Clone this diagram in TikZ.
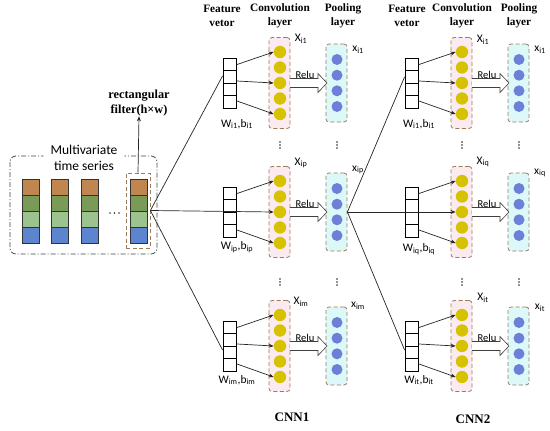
\documentclass[tikz,border=0pt]{standalone}
\usepackage{fontspec}
\setmainfont{Liberation Serif}
\newfontfamily\calfont{Carlito}
\usetikzlibrary{calc,arrows.meta}
\definecolor{ccA}{HTML}{BF8650}
\definecolor{ccB}{HTML}{7A9A58}
\definecolor{ccC}{HTML}{9CC38D}
\definecolor{ccD}{HTML}{5C84CF}
\definecolor{yel}{HTML}{D6C200}
\definecolor{blu}{HTML}{6C80D8}
\definecolor{pinkf}{HTML}{FCEAF1}
\definecolor{cyanf}{HTML}{DDF8F8}
\definecolor{brn}{HTML}{9C7B5B}
\definecolor{panel}{HTML}{3C4A48}
\newcommand\cnnrow[7]{%
 \node[fvbox] (#1fv) at ({#2+229.5},#3) {};
 \draw[fvline] ({#2+223},{#3-12.5}) -- ++(13,0) ({#2+223},#3) -- ++(13,0) ({#2+223},{#3+12.5}) -- ++(13,0);
 \node[convbox] (#1cv) at ({#2+279.5},#3) {};
 \foreach \k/\dy in {1/-31,2/-15.5,3/0,4/15.5,5/31}{\node[ycirc] (#1y\k) at ({#2+280},{#3+\dy}) {};}
 \node[poolbox] (#1pl) at ({#2+336.5},#3) {};
 \foreach \k/\dy in {1/-23.5,2/-7.8,3/7.8,4/23.5}{\node[bcirc] (#1b\k) at ({#2+337},{#3+\dy}) {};}
 \node[lbl] (#1X) at ({#2+301},{#3+#5}) {X\textsubscript{i#4}};
 \node[lbl] (#1x) at ({#2+358},{#3+#6}) {x\textsubscript{i#4}};
 \node[lbl] (#1W) at ({#2+237},{#3+#7}) {W\textsubscript{i#4},b\textsubscript{i#4}};
 \draw[blockarrow] ({#2+290},{#3-4.5}) -- ({#2+318},{#3-4.5}) -- ({#2+318},{#3-9.5}) -- ({#2+327},#3) -- ({#2+318},{#3+9.5}) -- ({#2+318},{#3+4.5}) -- ({#2+290},{#3+4.5});
 \node[relu] (#1r) at ({#2+305},{#3-8}) {Relu};
 \draw[conn,-{Stealth[length=5pt,width=4pt]}] ($(#1fv.north east)!0.14!(#1fv.south east)$) -- (#1y1.west);
 \draw[conn,-{Stealth[length=5pt,width=4pt]}] ($(#1fv.north east)!0.85!(#1fv.south east)$) -- (#1y5.west);
}
\begin{document}
\begin{tikzpicture}[x=1pt,y=-1pt,
  fvbox/.style={draw=black,fill=white,line width=0.8pt,minimum width=13pt,minimum height=50pt,inner sep=0pt},
  fvline/.style={line width=0.8pt},
  convbox/.style={draw=brn,fill=pinkf,dashed,dash pattern=on 4pt off 2.5pt,line width=0.8pt,rounded corners=3pt,minimum width=21pt,minimum height=91pt,inner sep=0pt},
  poolbox/.style={draw=brn,fill=cyanf,dashed,dash pattern=on 4pt off 2.5pt,line width=0.8pt,rounded corners=3pt,minimum width=21pt,minimum height=78pt,inner sep=0pt},
  ycirc/.style={circle,fill=yel,minimum size=12.4pt,inner sep=0pt},
  bcirc/.style={circle,fill=blu,minimum size=11pt,inner sep=0pt},
  lbl/.style={font=\calfont\fontsize{11.5}{13}\selectfont,inner sep=0pt},
  relu/.style={font=\calfont\fontsize{10.5}{12}\selectfont,inner sep=0pt},
  blockarrow/.style={draw=black!75,fill=white,line width=0.6pt},
  conn/.style={draw=black!85,line width=0.7pt},
  hdr/.style={font=\bfseries\fontsize{11.3}{14}\selectfont,align=center,inner sep=0pt},
  cnnlbl/.style={font=\bfseries\fontsize{13}{15}\selectfont,inner sep=0pt},
  cell/.style={draw=black!80,line width=0.7pt}]
\useasboundingbox[fill=white] (0,0) rectangle (550,431);

% left panel
\draw[panel,line width=0.8pt,dash pattern=on 5pt off 2pt on 1pt off 2pt,rounded corners=6pt] (10,156) rectangle (157,254);
\node[fill=white,rounded corners=4pt,inner xsep=7pt,inner ysep=2pt,align=center,font=\calfont\fontsize{13.5}{16}\selectfont] (mts) at (84,158) {Multivariate\\time series};
\foreach \xx in {22,51,81,130}{
  \filldraw[cell,fill=ccA] (\xx,179) rectangle ++(17,16);
  \filldraw[cell,fill=ccB] (\xx,195) rectangle ++(17,16);
  \filldraw[cell,fill=ccC] (\xx,211) rectangle ++(17,16);
  \filldraw[cell,fill=ccD] (\xx,227) rectangle ++(17,16);
}
\foreach \xx in {110,114.5,119}{\fill[black!80] (\xx,213) circle (0.9pt);}
\node[draw=brn,dashed,dash pattern=on 4pt off 2.5pt,line width=0.8pt,minimum width=24pt,minimum height=75pt,inner sep=0pt] (filt) at (138,210.5) {};
\node[hdr,font=\bfseries\fontsize{12.3}{15}\selectfont] (ftext) at (139,103) {rectangular\\filter(h×w)};
\draw[conn,-{Stealth[length=5pt,width=4pt]}] (filt.north) -- (ftext.south);

% headers
\node[hdr] (h1) at (222,16) {Feature\\vetor};
\node[hdr] (h2) at (280,16) {Convolution\\layer};
\node[hdr] (h3) at (343,16) {Pooling\\layer};
\node[hdr] (h4) at (407,16) {Feature\\vetor};
\node[hdr] (h5) at (462,16) {Convolution\\layer};
\node[hdr] (h6) at (519,16) {Pooling\\layer};

% CNN rows
\cnnrow{a}{0}{83}{1}{-44}{-33}{41}
\cnnrow{b}{0}{212}{p}{-49}{-42}{35}
\cnnrow{c}{0}{346}{m}{-44}{-40}{34}
\cnnrow{d}{182}{83}{1}{-43}{-33}{41}
\cnnrow{e}{182}{212}{q}{-50}{-39}{37}
\cnnrow{f}{182}{346}{t}{-48}{-38}{34}

% middle arrows in top and bottom rows
\foreach \r in {a,c,d,f}{
  \draw[conn,-{Stealth[length=5pt,width=4pt]}] ($(\r fv.north east)!0.46!(\r fv.south east)$) -- (\r y3.west);
}

% input connectors
\draw[conn] (filt.east) -- ($(afv.north west)!0.36!(afv.south west)$);
\draw[conn] (filt.east) -- ($(cfv.north west)!0.58!(cfv.south west)$);
\draw[conn,-{Stealth[length=5pt,width=4pt]}] (filt.east) -- (by3.west);
\draw[conn] (bpl.east) -- ($(dfv.north west)!0.38!(dfv.south west)$);
\draw[conn] (bpl.east) -- ($(ffv.north west)!0.58!(ffv.south west)$);
\draw[conn,-{Stealth[length=5pt,width=4pt]}] (bpl.east) -- (ey3.west);

% vertical ellipses
\foreach \xx in {280,337,462,519}{
  \foreach \yy in {145,282}{
    \fill[black!85] (\xx,\yy-3) circle (0.9pt);
    \fill[black!85] (\xx,\yy) circle (0.9pt);
    \fill[black!85] (\xx,\yy+3) circle (0.9pt);
  }
}

\node[cnnlbl] (cnn1) at (292,417) {CNN1};
\node[cnnlbl] (cnn2) at (473,419) {CNN2};
\end{tikzpicture}
\end{document}
